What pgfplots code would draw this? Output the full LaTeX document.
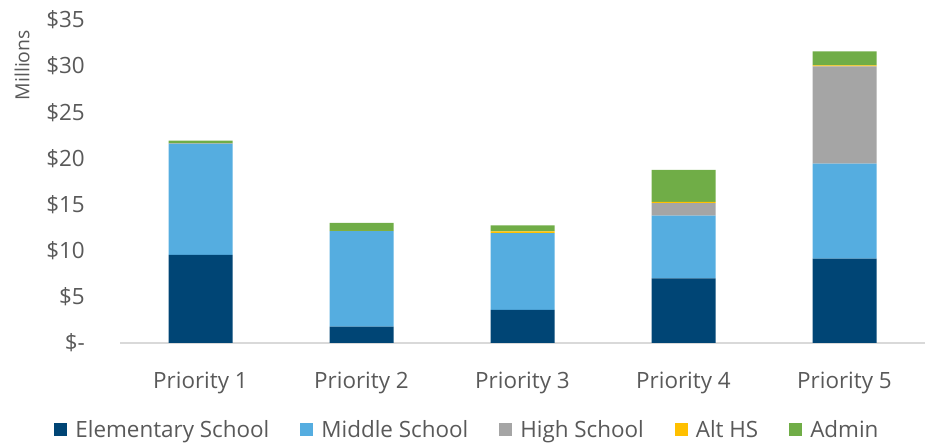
\documentclass[border=0pt]{standalone}
\usepackage{pgfplots}
\pgfplotsset{compat=1.18}
\usepackage{fontspec}
\setmainfont{Open Sans}
\definecolor{elem}{HTML}{004575}
\definecolor{mid}{HTML}{55ADE0}
\definecolor{hs}{HTML}{A5A5A5}
\definecolor{alt}{HTML}{FFC000}
\definecolor{adm}{HTML}{70AD47}
\definecolor{txt}{HTML}{595959}
\begin{document}
\begin{tikzpicture}
\path[use as bounding box] (0,0) rectangle (931bp,445bp);
\begin{axis}[
  at={(120bp,102bp)}, anchor=south west,
  scale only axis, width=805bp, height=323bp,
  ybar stacked, bar width=64bp,
  xmin=-0.5, xmax=4.5, ymin=0, ymax=35,
  xtick={0,1,2,3,4},
  xticklabels={Priority 1,Priority 2,Priority 3,Priority 4,Priority 5},
  ytick={0,5,10,15,20,25,30,35},
  yticklabels={\$-,\$5,\$10,\$15,\$20,\$25,\$30,\$35},
  axis y line*=left,
  y axis line style={draw=none},
  axis x line*=bottom,
  x axis line style={draw=black!15, line width=1.2bp, -},
  major tick length=0pt,
  tick style={draw=none},
  ticklabel style={font=\fontsize{22.5}{27}\selectfont, text=txt},
  yticklabel style={anchor=east, inner sep=0pt, xshift=-35bp},
  xticklabel style={anchor=base, inner sep=0pt, yshift=-45bp},
  ylabel={Millions},
  ylabel style={at={(rel axis cs:-0.1217,0.86)}, anchor=center, font=\fontsize{19.5}{23}\selectfont, text=txt},
  legend columns=5,
  legend style={at={(0.4316,-0.269)}, anchor=center, draw=none, fill=none,
    font=\fontsize{22.5}{27}\selectfont, text=txt,
    /tikz/every odd column/.append style={column sep=6bp},
    /tikz/every even column/.append style={column sep=29bp}},
  legend image code/.code={\fill[#1] (0bp,-6.5bp) rectangle (13bp,6.5bp);},
  every axis plot/.append style={draw=none},
  clip=false,
]
\addplot[fill=elem] coordinates {(0,9.54) (1,1.77) (2,3.58) (3,7.01) (4,9.15)};
\addplot[fill=mid] coordinates {(0,12.04) (1,10.34) (2,8.32) (3,6.80) (4,10.30)};
\addplot[fill=hs] coordinates {(0,0.05) (1,0) (2,0) (3,1.34) (4,10.52)};
\addplot[fill=alt] coordinates {(0,0) (1,0.05) (2,0.20) (3,0.15) (4,0.10)};
\addplot[fill=adm] coordinates {(0,0.30) (1,0.85) (2,0.65) (3,3.45) (4,1.53)};
\legend{Elementary School,Middle School,High School,Alt HS,Admin}
\end{axis}
\end{tikzpicture}
\end{document}
